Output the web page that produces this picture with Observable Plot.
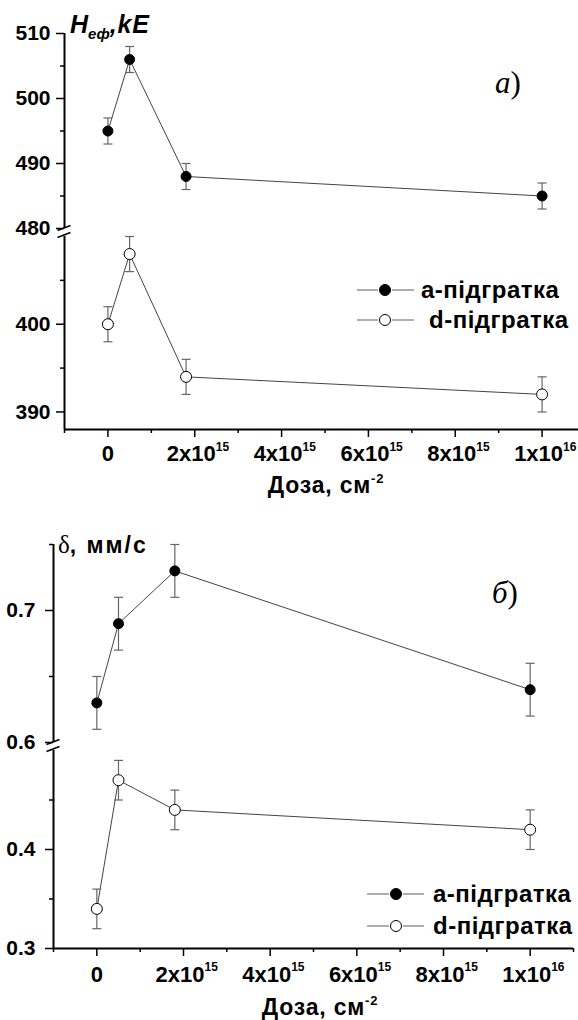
<!DOCTYPE html>
<html>
<head>
<meta charset="utf-8">
<script src="https://cdn.jsdelivr.net/npm/d3@7"></script>
<script src="https://cdn.jsdelivr.net/npm/@observablehq/plot@0.6"></script>
<style>
html, body { margin: 0; padding: 0; background: #fff; overflow: hidden; }
#chart { position: relative; width: 578px; height: 1020px; overflow: hidden; background: #fff; }
#chart > svg { position: absolute; left: 0; overflow: visible; }
</style>
</head>
<body>
<div id="chart"></div>
<script>
// ---------- data ----------
const doses = [0, 5e14, 1.8e15, 1e16];
const hA = [495, 506, 488, 485];
const hAErr = [2, 2, 2, 2];
const hD = [400, 408, 394, 392];
const hDErr = [2, 2, 2, 2];
const deltaA = [0.63, 0.69, 0.73, 0.64];
const deltaAErr = [0.02, 0.02, 0.02, 0.02];
const deltaD = [0.34, 0.47, 0.44, 0.42];
const deltaDErr = [0.02, 0.02, 0.02, 0.02];
const seriesNames = ["a-підгратка", "d-підгратка"];
const xDomain = [-1e15, 1.1e16];
const xMajorTicks = [0, 2e15, 4e15, 6e15, 8e15, 1e16];
const xMinorTicks = [-1e15, 1e15, 3e15, 5e15, 7e15, 9e15, 1.1e16];
// broken y axes: [lower segment, upper segment]
const hSegments = [[388, 410], [480, 510]];
const hMajor = [390, 400, 480, 490, 500, 510];
const hMinor = [395, 405, 485, 495, 505];
const dSegments = [[0.3, 0.5], [0.6, 0.75]];
const dMajor = [0.3, 0.4, 0.6, 0.7];
const dMinor = [0.35, 0.45, 0.65, 0.75];

const sansFont = "'Liberation Sans', Arial, sans-serif";
const serifFont = "'Liberation Serif', 'Times New Roman', serif";

const capSymbol = { draw(ctx) { ctx.moveTo(-4.5, 0); ctx.lineTo(4.5, 0); } };
const breakSymbol = { draw(ctx) { ctx.moveTo(-7, 2); ctx.lineTo(6, -3); ctx.moveTo(-7, 9); ctx.lineTo(6, 4); } };

function rows(xs, ys, es) { return xs.map((x, i) => ({ x, y: ys[i], e: es[i] })); }
const mant = d => String(Math.round(d / Math.pow(10, Math.floor(Math.log10(d)))));
const expo = d => String(Math.floor(Math.log10(d)));
const inside = ([lo, hi]) => v => v >= lo - 1e-9 && v <= hi + 1e-9;

function segment(cfg) {
  const data = rows(doses, cfg.values, cfg.errors);
  const yMin = cfg.yDomain[0];
  const xLabels = xMajorTicks.filter(d => d !== 0);
  const marks = [
    Plot.ruleX([xDomain[0]], { y1: cfg.yDomain[0], y2: cfg.yDomain[1], stroke: "black", strokeWidth: 2 }),
    Plot.axisY({ ticks: cfg.major.filter(inside(cfg.yDomain)), tickSize: 8, tickPadding: cfg.yPad, tickFormat: cfg.fmt,
      fontSize: 21, fontWeight: "bold", label: null, strokeWidth: 1.5 }),
    Plot.axisY({ ticks: cfg.minor.filter(inside(cfg.yDomain)), tickSize: 4, tickFormat: () => "", label: null, strokeWidth: 1.5 })
  ];
  if (cfg.breakBelow) {
    marks.push(Plot.dot([yMin], { x: xDomain[0], y: d => d, symbol: breakSymbol, stroke: "black", strokeWidth: 1.5, fill: "none" }));
  }
  if (cfg.withX) {
    marks.push(
      Plot.ruleY([yMin], { stroke: "black", strokeWidth: 2 }),
      Plot.axisX({ ticks: xMajorTicks, tickSize: 8, tickFormat: () => "", label: null, strokeWidth: 1.5 }),
      Plot.axisX({ ticks: xMinorTicks, tickSize: 4, tickFormat: () => "", label: null, strokeWidth: 1.5 }),
      Plot.text([0], { x: d => d, y: yMin, text: d => String(d), dy: cfg.xDy, lineAnchor: "bottom", fontSize: 22, fontWeight: "bold" }),
      Plot.text(xLabels, { x: d => d, y: yMin, text: d => mant(d) + "x10", textAnchor: "end", dx: 21, dy: cfg.xDy,
        lineAnchor: "bottom", fontSize: 22, fontWeight: "bold", letterSpacing: 0.6 }),
      Plot.text(xLabels, { x: d => d, y: yMin, text: expo, textAnchor: "start", dx: 21, dy: cfg.supDy,
        lineAnchor: "bottom", fontSize: 12, fontWeight: "bold" })
    );
  }
  marks.push(
    Plot.line(data, { x: "x", y: "y", stroke: "#444", strokeWidth: 1 }),
    Plot.link(data, { x1: "x", x2: "x", y1: d => d.y - d.e, y2: d => d.y + d.e, stroke: "#666", strokeWidth: 1.2 }),
    Plot.dot(data, { x: "x", y: d => d.y - d.e, symbol: capSymbol, stroke: "#666", strokeWidth: 1.2, fill: "none" }),
    Plot.dot(data, { x: "x", y: d => d.y + d.e, symbol: capSymbol, stroke: "#666", strokeWidth: 1.2, fill: "none" }),
    Plot.dot(data, { x: "x", y: "y", r: cfg.filled ? 5 : 5.5, fill: cfg.filled ? "black" : "white", stroke: "black", strokeWidth: 1 })
  );
  const svg = Plot.plot({
    width: cfg.width, height: cfg.height,
    marginLeft: cfg.mL, marginRight: cfg.mR, marginTop: cfg.mT, marginBottom: cfg.mB,
    style: { background: "transparent", fontFamily: sansFont, color: "black", overflow: "visible", maxWidth: "none" },
    x: { domain: xDomain, axis: null },
    y: { domain: cfg.yDomain, axis: null },
    marks
  });
  svg.style.top = cfg.top + "px";
  return svg;
}

const root = document.getElementById("chart");

// ---- panel а : upper (a-sublattice) and lower (d-sublattice) segments ----
root.appendChild(segment({
  values: hA, errors: hAErr, filled: true, yDomain: hSegments[1],
  top: 0, width: 585, height: 230, mL: 64, mR: 0, mT: 33, mB: 2,
  major: hMajor, minor: hMinor, yPad: 6, fmt: d => String(d), breakBelow: true
}));
root.appendChild(segment({
  values: hD, errors: hDErr, filled: false, yDomain: hSegments[0],
  top: 230, width: 585, height: 270, mL: 64, mR: 0, mT: 6, mB: 71,
  major: hMajor, minor: hMinor, yPad: 6, fmt: d => String(d), withX: true, xDy: 31, supDy: 21
}));

// ---- panel б ----
root.appendChild(segment({
  values: deltaA, errors: deltaAErr, filled: true, yDomain: dSegments[1],
  top: 500, width: 578, height: 245, mL: 53, mR: 5, mT: 44, mB: 3,
  major: dMajor, minor: dMinor, yPad: 10, fmt: d3.format(".1f"), breakBelow: true
}));
root.appendChild(segment({
  values: deltaD, errors: deltaDErr, filled: false, yDomain: dSegments[0],
  top: 745, width: 578, height: 275, mL: 53, mR: 5, mT: 5, mB: 72,
  major: dMajor, minor: dMinor, yPad: 10, fmt: d3.format(".1f"), withX: true, xDy: 33.5, supDy: 22
}));

// ---- annotations overlay ----
const ov = d3.select(root).append("svg").attr("width", 578).attr("height", 1020)
  .style("top", "0px").style("pointer-events", "none");

function addLegend(lg) {
  seriesNames.forEach((name, i) => {
    const y = lg.ys[i];
    ov.append("line").attr("x1", lg.x0).attr("x2", lg.xm - 7).attr("y1", y).attr("y2", y).attr("stroke", "#777").attr("stroke-width", 1.2);
    ov.append("line").attr("x1", lg.xm + 7).attr("x2", lg.x1).attr("y1", y).attr("y2", y).attr("stroke", "#777").attr("stroke-width", 1.2);
    ov.append("circle").attr("cx", lg.xm).attr("cy", y).attr("r", 5.5)
      .attr("fill", i === 0 ? "black" : "white").attr("stroke", "black").attr("stroke-width", 1);
    ov.append("text").attr("x", lg.tx[i]).attr("y", lg.ty[i]).attr("text-anchor", "start").attr("font-family", sansFont)
      .attr("font-weight", "bold").attr("font-size", 24).attr("letter-spacing", 0.5).attr("fill", "black").text(name);
  });
}
function addXTitle(cx, y) {
  const t = ov.append("text").attr("x", cx).attr("y", y).attr("text-anchor", "middle")
    .attr("font-family", sansFont).attr("font-weight", "bold").attr("font-size", 23).attr("letter-spacing", 0.8).attr("fill", "black");
  t.append("tspan").text("Доза, см");
  t.append("tspan").attr("font-size", 13).attr("dy", -10).text("-2");
}
function addPanelLabel(x, y, letter) {
  const p = ov.append("text").attr("x", x).attr("y", y).attr("text-anchor", "start").attr("font-family", serifFont)
    .attr("font-size", 31).attr("fill", "black");
  p.append("tspan").attr("font-style", "italic").text(letter);
  p.append("tspan").text(")");
}

{
  const t = ov.append("text").attr("x", 70).attr("y", 33).attr("text-anchor", "start").attr("font-family", sansFont)
    .attr("font-weight", "bold").attr("font-style", "italic").attr("font-size", 25).attr("fill", "black");
  t.append("tspan").text("H");
  t.append("tspan").attr("font-size", 15).attr("dy", 6).text("еф");
  t.append("tspan").attr("dy", -6).attr("letter-spacing", 0.8).text(",kE");
}
addPanelLabel(495, 93, "а");
addXTitle(326, 493);
addLegend({ x0: 357, xm: 385, x1: 414, ys: [290, 320], tx: [421, 429], ty: [298, 328] });

{
  const t = ov.append("text").attr("x", 58).attr("y", 553).attr("text-anchor", "start").attr("fill", "black");
  t.append("tspan").attr("font-family", serifFont).attr("font-size", 25).text("δ");
  t.append("tspan").attr("font-family", sansFont).attr("font-weight", "bold").attr("font-size", 23)
    .attr("letter-spacing", 2).text(", мм/с");
}
addPanelLabel(492, 603, "б");
addXTitle(320, 1015);
addLegend({ x0: 367, xm: 396, x1: 424, ys: [894, 926], tx: [433, 433], ty: [902, 934] });
</script>
</body>
</html>
